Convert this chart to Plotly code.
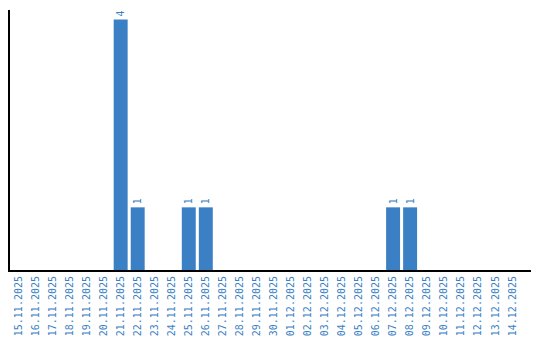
import plotly.graph_objects as go
import datetime as dt

start = dt.date(2025, 11, 15)
dates = [(start + dt.timedelta(days=i)).strftime("%d.%m.%Y") for i in range(30)]
counts_by_date = {"21.11.2025": 4, "22.11.2025": 1, "25.11.2025": 1,
                  "26.11.2025": 1, "07.12.2025": 1, "08.12.2025": 1}
values = [counts_by_date.get(d, 0) for d in dates]
labels = [str(v) if v else "" for v in values]

blue = "#3b7fc4"
font_family = "DejaVu Sans Mono"
fig = go.Figure(go.Bar(
    x=dates, y=values, text=labels, textposition="outside", textangle=-90,
    textfont=dict(color=blue, size=10, family=font_family),
    marker=dict(color=blue, line=dict(width=0)), cliponaxis=False,
))
fig.update_layout(
    width=540, height=340, margin=dict(l=10, r=9, t=10, b=70),
    plot_bgcolor="white", paper_bgcolor="white", showlegend=False,
    bargap=0.18,
    font=dict(family=font_family, size=10, color=blue),
)
fig.update_xaxes(type="category", range=[-0.5, 30.1], tickangle=-90,
                 showline=True, linecolor="black", linewidth=2,
                 showgrid=False, ticks="", automargin=False,
                 tickfont=dict(color=blue, size=10, family=font_family))
fig.update_yaxes(range=[0, 4.15], showline=True, linecolor="black", linewidth=2,
                 showgrid=False, showticklabels=False, ticks="", zeroline=False,
                 automargin=False)
fig.write_html("out.html")
